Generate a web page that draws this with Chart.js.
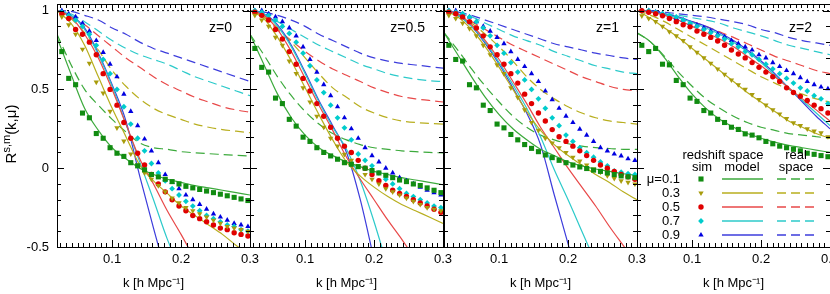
<!DOCTYPE html>
<html>
<head>
<meta charset="utf-8">
<script src="https://cdn.jsdelivr.net/npm/chart.js@4.4.0/dist/chart.umd.min.js"></script>
<style>
  body { margin: 0; background: #fff; width: 830px; height: 294px; overflow: hidden; position: relative; }
  canvas { position: absolute; top: 0; }
</style>
</head>
<body>
<canvas id="p0" width="270" height="294" style="left:0px"></canvas>
<canvas id="p1" width="270" height="294" style="left:193px"></canvas>
<canvas id="p2" width="270" height="294" style="left:387px"></canvas>
<canvas id="p3" width="270" height="294" style="left:580px"></canvas>
<script>
// k bins of the simulation points and of the model curves
const kSim = [0.027,0.037,0.047,0.057,0.067,0.077,0.087,0.097,0.107,0.117,0.127,0.137,0.147,0.157,0.167,0.177,0.187,0.197,0.207,0.217,0.227,0.237,0.247,0.257,0.267,0.277,0.287,0.297];
const kLine = [0.02,0.04,0.06,0.08,0.10,0.12,0.14,0.16,0.18,0.20,0.22,0.24,0.26,0.28,0.30];

const muLabels = ['μ=0.1', '0.3', '0.5', '0.7', '0.9'];
const zLabels = ['z=0', 'z=0.5', 'z=1', 'z=2'];
const xTickLabels = ['0.1', '0.2', '0.3'];
const yTickLabels = ['-0.5', '0', '0.5', '1'];
const xMin = 0.02, xMax = 0.3;
const yMin = -0.5, yMax = 1.042;

// order inside each panel: mu = 0.1, 0.3, 0.5, 0.7, 0.9
const simZ0 = [
  [0.74,0.57,0.53,0.35,0.32,0.22,0.19,0.13,0.095,0.075,0.035,0.015,-0.01,-0.04,-0.055,-0.07,-0.085,-0.10,-0.115,-0.125,-0.135,-0.145,-0.155,-0.165,-0.175,-0.185,-0.195,-0.205],
  [0.96,0.91,0.85,0.755,0.665,0.546,0.477,0.361,0.256,0.172,0.09,0.02,-0.03,-0.07,-0.11,-0.15,-0.19,-0.22,-0.25,-0.27,-0.29,-0.31,-0.33,-0.35,-0.37,-0.38,-0.39,-0.40],
  [0.98,0.95,0.88,0.85,0.80,0.72,0.60,0.50,0.40,0.29,0.19,0.095,0.02,-0.04,-0.10,-0.15,-0.20,-0.24,-0.27,-0.30,-0.32,-0.34,-0.36,-0.38,-0.39,-0.41,-0.42,-0.43],
  [0.99,0.97,0.94,0.90,0.85,0.78,0.69,0.60,0.50,0.39,0.28,0.19,0.11,0.03,-0.03,-0.08,-0.13,-0.17,-0.21,-0.24,-0.27,-0.30,-0.32,-0.34,-0.36,-0.37,-0.39,-0.40],
  [1.0,0.98,0.96,0.92,0.87,0.81,0.735,0.66,0.58,0.47,0.36,0.27,0.185,0.11,0.035,-0.04,-0.09,-0.13,-0.17,-0.20,-0.23,-0.26,-0.29,-0.31,-0.33,-0.35,-0.36,-0.37]
];
const modelZ0 = [
  [0.83,0.60,0.38,0.24,0.13,0.06,0.0,-0.04,-0.07,-0.09,-0.11,-0.125,-0.14,-0.155,-0.17],
  [1.0,0.92,0.78,0.58,0.38,0.20,0.02,-0.08,-0.16,-0.24,-0.30,-0.36,-0.42,-0.49,-0.55],
  [1.0,0.96,0.85,0.70,0.50,0.28,0.06,-0.10,-0.27,-0.42,-0.58],
  [1.0,0.97,0.88,0.72,0.52,0.28,0.04,-0.20,-0.45,-0.65],
  [1.0,0.97,0.89,0.73,0.53,0.30,-0.05,-0.38,-0.70]
];
const realZ0 = [
  [0.85,0.66,0.50,0.40,0.31,0.23,0.16,0.13,0.12,0.105,0.098,0.092,0.087,0.082,0.077],
  [1.0,0.95,0.86,0.75,0.62,0.52,0.44,0.38,0.34,0.31,0.28,0.26,0.245,0.235,0.225],
  [1.0,0.96,0.91,0.84,0.77,0.70,0.64,0.58,0.53,0.49,0.45,0.42,0.39,0.37,0.355],
  [1.0,0.98,0.93,0.87,0.81,0.76,0.72,0.69,0.66,0.62,0.58,0.55,0.52,0.49,0.46],
  [1.0,0.995,0.97,0.94,0.89,0.85,0.80,0.76,0.73,0.70,0.67,0.64,0.61,0.58,0.55]
];

const simZ05 = [
  [0.76,0.64,0.61,0.445,0.41,0.31,0.267,0.197,0.17,0.13,0.10,0.078,0.057,0.035,0.025,0.01,0.0,-0.015,-0.03,-0.045,-0.06,-0.075,-0.085,-0.10,-0.11,-0.125,-0.14,-0.155],
  [0.97,0.94,0.90,0.83,0.78,0.68,0.60,0.51,0.42,0.33,0.26,0.19,0.14,0.088,0.05,0.015,-0.04,-0.07,-0.10,-0.13,-0.15,-0.17,-0.19,-0.21,-0.23,-0.25,-0.26,-0.27],
  [0.99,0.97,0.94,0.88,0.82,0.74,0.66,0.57,0.49,0.41,0.33,0.26,0.19,0.14,0.10,0.05,0.0,-0.04,-0.08,-0.11,-0.14,-0.16,-0.18,-0.20,-0.22,-0.24,-0.26,-0.28],
  [1.0,0.99,0.97,0.94,0.90,0.855,0.80,0.73,0.65,0.56,0.48,0.40,0.32,0.256,0.18,0.09,0.05,0.015,-0.03,-0.07,-0.10,-0.13,-0.16,-0.18,-0.20,-0.22,-0.24,-0.25],
  [1.0,1.0,0.98,0.96,0.93,0.89,0.84,0.77,0.69,0.61,0.53,0.46,0.39,0.32,0.25,0.19,0.13,0.08,0.04,0.0,-0.03,-0.06,-0.08,-0.10,-0.12,-0.14,-0.155,-0.17]
];
const modelZ05 = [
  [0.85,0.66,0.47,0.32,0.21,0.13,0.08,0.04,0.01,-0.02,-0.04,-0.06,-0.075,-0.09,-0.105],
  [1.0,0.95,0.83,0.68,0.51,0.34,0.18,0.04,-0.05,-0.12,-0.18,-0.23,-0.27,-0.31,-0.35],
  [1.0,0.97,0.88,0.74,0.57,0.40,0.24,0.07,-0.07,-0.20,-0.33,-0.45,-0.58],
  [1.0,0.98,0.90,0.77,0.60,0.42,0.26,0.12,-0.08,-0.34,-0.63],
  [1.0,0.98,0.91,0.78,0.61,0.43,0.27,0.10,-0.20,-0.58]
];
const realZ05 = [
  [0.85,0.72,0.58,0.46,0.36,0.28,0.22,0.18,0.15,0.13,0.12,0.11,0.105,0.10,0.097],
  [1.0,0.96,0.89,0.80,0.70,0.60,0.51,0.45,0.39,0.35,0.32,0.30,0.29,0.285,0.28],
  [1.0,0.96,0.88,0.81,0.74,0.68,0.63,0.59,0.55,0.51,0.48,0.455,0.44,0.43,0.42],
  [1.0,0.97,0.93,0.88,0.83,0.78,0.74,0.70,0.66,0.63,0.60,0.58,0.565,0.555,0.55],
  [1.0,0.99,0.97,0.94,0.90,0.85,0.81,0.77,0.73,0.70,0.68,0.665,0.655,0.645,0.635]
];

const simZ1 = [
  [0.78,0.69,0.68,0.53,0.51,0.40,0.366,0.28,0.256,0.214,0.18,0.15,0.126,0.105,0.084,0.067,0.05,0.035,0.02,0.008,-0.002,-0.012,-0.02,-0.03,-0.04,-0.049,-0.055,-0.06],
  [0.97,0.95,0.92,0.886,0.84,0.78,0.72,0.656,0.60,0.51,0.45,0.37,0.29,0.24,0.19,0.16,0.13,0.10,0.07,0.045,0.02,-0.006,-0.025,-0.048,-0.065,-0.08,-0.09,-0.10],
  [0.99,0.98,0.96,0.93,0.89,0.84,0.77,0.72,0.66,0.60,0.54,0.47,0.41,0.35,0.30,0.245,0.20,0.17,0.14,0.11,0.08,0.05,0.02,0.0,-0.02,-0.04,-0.055,-0.07],
  [1.0,0.99,0.98,0.96,0.93,0.89,0.84,0.78,0.73,0.67,0.61,0.56,0.50,0.44,0.38,0.32,0.27,0.21,0.17,0.13,0.098,0.07,0.04,0.015,-0.017,-0.025,-0.035,-0.04],
  [1.0,1.0,0.98,0.96,0.93,0.90,0.87,0.83,0.79,0.74,0.69,0.645,0.60,0.55,0.49,0.435,0.38,0.33,0.29,0.248,0.21,0.17,0.13,0.11,0.09,0.078,0.06,0.05]
];
const modelZ1 = [
  [0.86,0.72,0.58,0.45,0.34,0.25,0.18,0.12,0.08,0.04,0.015,-0.005,-0.02,-0.035,-0.045],
  [1.0,0.96,0.88,0.77,0.64,0.50,0.36,0.24,0.15,0.08,0.02,-0.04,-0.09,-0.15,-0.20],
  [1.0,0.98,0.91,0.81,0.69,0.55,0.41,0.26,0.13,0.0,-0.12,-0.24,-0.37,-0.49,-0.61],
  [1.0,0.97,0.90,0.80,0.67,0.53,0.38,0.20,-0.01,-0.20,-0.40,-0.60],
  [1.0,0.97,0.90,0.79,0.66,0.51,0.35,0.15,-0.17,-0.48,-0.80]
];
const realZ1 = [
  [0.86,0.75,0.63,0.52,0.42,0.33,0.26,0.21,0.18,0.155,0.14,0.13,0.125,0.12,0.12],
  [1.0,0.97,0.92,0.85,0.77,0.68,0.58,0.50,0.44,0.39,0.35,0.32,0.30,0.29,0.28],
  [1.0,0.97,0.93,0.88,0.83,0.78,0.74,0.70,0.66,0.62,0.58,0.55,0.52,0.50,0.49],
  [1.0,0.98,0.96,0.92,0.88,0.84,0.81,0.78,0.74,0.71,0.68,0.65,0.63,0.61,0.60],
  [1.0,0.99,0.97,0.94,0.91,0.88,0.85,0.82,0.79,0.77,0.75,0.73,0.715,0.70,0.69]
];

const simZ2 = [
  [0.78,0.74,0.76,0.66,0.656,0.557,0.53,0.445,0.424,0.366,0.35,0.31,0.29,0.26,0.246,0.218,0.21,0.193,0.17,0.155,0.14,0.13,0.12,0.11,0.095,0.088,0.08,0.073],
  [0.967,0.95,0.93,0.90,0.866,0.84,0.81,0.77,0.735,0.70,0.666,0.63,0.596,0.56,0.53,0.50,0.467,0.435,0.40,0.37,0.344,0.315,0.288,0.27,0.25,0.235,0.224,0.20],
  [1.0,0.99,0.98,0.967,0.95,0.93,0.91,0.897,0.87,0.85,0.83,0.807,0.78,0.75,0.725,0.70,0.67,0.64,0.61,0.58,0.55,0.51,0.48,0.456,0.43,0.40,0.378,0.35],
  [1.0,1.0,0.99,0.98,0.97,0.96,0.94,0.92,0.90,0.88,0.86,0.84,0.82,0.79,0.77,0.74,0.72,0.69,0.66,0.63,0.60,0.57,0.54,0.51,0.49,0.46,0.44,0.41],
  [1.0,1.0,0.99,0.98,0.96,0.95,0.94,0.92,0.908,0.89,0.87,0.85,0.834,0.81,0.79,0.77,0.75,0.72,0.70,0.67,0.645,0.62,0.60,0.575,0.55,0.53,0.515,0.504]
];
const modelZ2 = [
  [0.86,0.80,0.70,0.58,0.47,0.38,0.31,0.26,0.22,0.19,0.165,0.145,0.13,0.115,0.10],
  [1.0,0.95,0.89,0.83,0.76,0.69,0.62,0.55,0.48,0.42,0.36,0.30,0.26,0.22,0.19],
  [1.0,0.99,0.97,0.94,0.90,0.86,0.82,0.77,0.71,0.65,0.58,0.51,0.44,0.37,0.30],
  [1.0,0.99,0.975,0.955,0.925,0.89,0.85,0.80,0.74,0.67,0.59,0.51,0.43,0.35,0.27],
  [1.0,0.995,0.98,0.96,0.93,0.90,0.86,0.81,0.75,0.68,0.60,0.51,0.42,0.33,0.25]
];
const realZ2 = [
  [0.86,0.80,0.71,0.61,0.52,0.44,0.38,0.33,0.29,0.26,0.24,0.22,0.21,0.20,0.19],
  [1.0,0.97,0.93,0.88,0.83,0.78,0.73,0.68,0.63,0.58,0.54,0.50,0.47,0.44,0.42],
  [1.0,0.99,0.975,0.955,0.93,0.90,0.865,0.83,0.79,0.75,0.71,0.68,0.65,0.62,0.60],
  [1.0,0.995,0.98,0.97,0.955,0.94,0.92,0.89,0.865,0.84,0.81,0.78,0.76,0.74,0.72],
  [1.0,1.0,0.99,0.98,0.97,0.96,0.945,0.93,0.91,0.88,0.86,0.83,0.81,0.795,0.78]
];

const sims = [simZ0, simZ05, simZ1, simZ2];
const models = [modelZ0, modelZ05, modelZ1, modelZ2];
const reals = [realZ0, realZ05, realZ1, realZ2];

const pointColors = ['#118c11', '#a89c0c', '#e00000', '#00cccc', '#0000e0'];
const lineColors = ['#3caa3c', '#b8ae1e', '#e84848', '#2ccaca', '#3c3cdc'];
const marks = ['rect', 'triangle', 'circle', 'rectRot', 'triangle'];
const markRot = [0, 180, 0, 0, 0];
const markSize = [3.6, 3.1, 2.7, 2.9, 3.1];
const FONT = "'Liberation Sans', Arial, sans-serif";

// minor x tics: 12 per 0.1, minor y tics: every 0.1
const xTicks = [];
for (let i = 3; i <= 36; i++) xTicks.push(i / 120);
const yTicks = [];
for (let i = -5; i <= 10; i++) yTicks.push(i / 10);

const isMajor = (v, step) => Math.abs(v / step - Math.round(v / step)) < 1e-6;

// inward ticks + frame, gnuplot style
const frameTicks = {
  id: 'frameTicks',
  afterDatasetsDraw(chart) {
    const { ctx, chartArea: a, scales: { x, y } } = chart;
    ctx.save();
    ctx.strokeStyle = '#000';
    ctx.lineWidth = 1;
    ctx.beginPath();
    xTicks.forEach(v => {
      const px = Math.round(x.getPixelForValue(v)) + 0.5;
      const len = isMajor(v, 0.1) ? 7 : 4;
      ctx.moveTo(px, a.bottom); ctx.lineTo(px, a.bottom - len);
      ctx.moveTo(px, a.top); ctx.lineTo(px, a.top + len);
    });
    yTicks.forEach(v => {
      const py = Math.round(y.getPixelForValue(v)) + 0.5;
      const len = isMajor(v, 0.5) ? 7 : 4;
      ctx.moveTo(a.left, py); ctx.lineTo(a.left + len, py);
      ctx.moveTo(a.right, py); ctx.lineTo(a.right - len, py);
    });
    ctx.stroke();
    ctx.strokeRect(Math.round(a.left) + 0.5, Math.round(a.top) + 0.5, Math.round(a.right - a.left), Math.round(a.bottom - a.top));
    ctx.restore();
  }
};

// z label, y title, legend
const decor = {
  id: 'decor',
  afterDraw(chart, args, opts) {
    const { ctx, chartArea: a } = chart;
    ctx.save();
    ctx.fillStyle = '#000';
    ctx.font = '14px ' + FONT;
    ctx.textAlign = 'right';
    ctx.textBaseline = 'middle';
    ctx.fillText(opts.z, a.right - 18, a.top + 24);

    if (opts.yTitle) {
      ctx.save();
      ctx.translate(12, 134);
      ctx.rotate(-Math.PI / 2);
      ctx.textAlign = 'left';
      ctx.textBaseline = 'middle';
      const big = '15px ' + FONT, small = '11px ' + FONT;
      ctx.font = big; const w1 = ctx.measureText('R').width, w3 = ctx.measureText('(k,μ)').width;
      ctx.font = small; const w2 = ctx.measureText('s,m').width;
      let xx = -(w1 + w2 + w3) / 2;
      ctx.font = big; ctx.fillText('R', xx, 0); xx += w1;
      ctx.font = small; ctx.fillText('s,m', xx, -5); xx += w2;
      ctx.font = big; ctx.fillText('(k,μ)', xx, 0);
      ctx.restore();
    }

    if (opts.legend) {
      const L = a.left;
      ctx.font = '13px ' + FONT;
      ctx.textAlign = 'center';
      ctx.fillText('redshift space', L + 86, 155);
      ctx.fillText('sim', L + 65, 167);
      ctx.fillText('model', L + 105, 167);
      ctx.fillText('real', L + 159, 155);
      ctx.fillText('space', L + 159, 167);
      muLabels.forEach((lab, m) => {
        const yy = 179 + m * 14;
        ctx.strokeStyle = lineColors[m];
        ctx.lineWidth = 1.5;
        ctx.setLineDash([]);
        ctx.beginPath(); ctx.moveTo(L + 85, yy); ctx.lineTo(L + 126, yy); ctx.stroke();
        ctx.setLineDash([9, 5]);
        ctx.beginPath(); ctx.moveTo(L + 140, yy); ctx.lineTo(L + 178, yy); ctx.stroke();
        ctx.setLineDash([]);
        ctx.fillStyle = '#000';
        ctx.textAlign = 'right';
        ctx.fillText(lab, L + 43, yy);
        ctx.fillStyle = pointColors[m];
        Chart.helpers.drawPoint(ctx, { pointStyle: marks[m], rotation: markRot[m], radius: markSize[m], borderWidth: 0 }, L + 64, yy);
      });
    }
    ctx.restore();
  }
};

function panel(i) {
  const datasets = [];
  sims[i].forEach((vals, m) => datasets.push({
    data: vals.map((v, j) => ({ x: kSim[j], y: v })),
    showLine: false,
    pointStyle: marks[m],
    pointRotation: markRot[m],
    pointRadius: markSize[m],
    backgroundColor: pointColors[m],
    borderColor: pointColors[m],
    borderWidth: 0
  }));
  models[i].forEach((vals, m) => datasets.push({
    data: vals.map((v, j) => ({ x: kLine[j], y: v })),
    showLine: true, pointRadius: 0, borderWidth: 1.2,
    borderColor: lineColors[m], cubicInterpolationMode: 'monotone'
  }));
  reals[i].forEach((vals, m) => datasets.push({
    data: vals.map((v, j) => ({ x: kLine[j], y: v })),
    showLine: true, pointRadius: 0, borderWidth: 1.2, borderDash: [9, 5],
    borderColor: lineColors[m], cubicInterpolationMode: 'monotone'
  }));
  datasets.push({
    data: [{ x: xMin, y: 1 }, { x: xMax, y: 1 }],
    showLine: true, pointRadius: 0, borderWidth: 1, borderDash: [2, 3], borderColor: '#000'
  });

  const ctx = document.getElementById('p' + i).getContext('2d');
  new Chart(ctx, {
    type: 'scatter',
    data: { datasets },
    plugins: [frameTicks, decor],
    options: {
      responsive: false,
      animation: false,
      devicePixelRatio: 1,
      events: [],
      layout: { padding: { top: 2, right: 20, left: 0, bottom: 0 } },
      plugins: {
        legend: { display: false },
        tooltip: { enabled: false },
        decor: { z: zLabels[i], yTitle: i === 0, legend: i === 3 }
      },
      scales: {
        x: {
          type: 'linear', min: xMin, max: xMax,
          afterBuildTicks: s => { s.ticks = xTicks.map(v => ({ value: v })); },
          afterFit: s => { s.height = 47; s.paddingLeft = 0; s.paddingRight = 0; },
          grid: { display: false, drawTicks: false },
          border: { display: false },
          ticks: {
            autoSkip: false, maxRotation: 0, padding: 5, color: '#000',
            font: { family: FONT, size: 13 },
            callback: v => {
              const idx = xTickLabels.indexOf(v.toFixed(2).replace(/0$/, ''));
              return isMajor(v, 0.1) && idx >= 0 ? xTickLabels[idx] : '';
            }
          },
          title: { display: true, text: 'k [h Mpc⁻¹]', color: '#000', font: { family: FONT, size: 13 }, padding: { top: 0, bottom: 3 } }
        },
        y: {
          type: 'linear', min: yMin, max: yMax,
          afterBuildTicks: s => { s.ticks = yTicks.map(v => ({ value: v })); },
          afterFit: s => { s.width = 57; s.paddingTop = 0; s.paddingBottom = 0; },
          grid: { display: false, drawTicks: false },
          border: { display: false },
          ticks: {
            display: i === 0, autoSkip: false, padding: 8, color: '#000',
            font: { family: FONT, size: 13 },
            callback: v => isMajor(v, 0.5) ? yTickLabels[Math.round(v / 0.5) + 1] : ''
          }
        }
      }
    }
  });
}

[0, 1, 2, 3].forEach(panel);
</script>
</body>
</html>
